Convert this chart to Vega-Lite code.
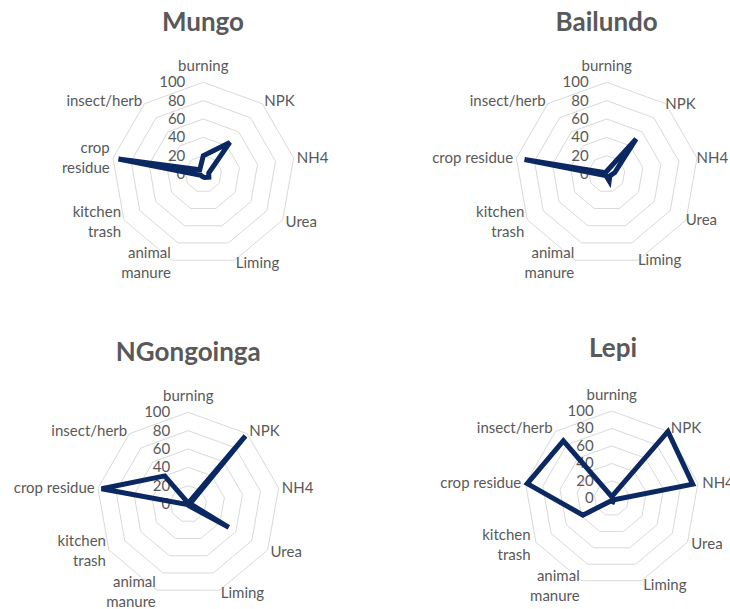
{
  "$schema": "https://vega.github.io/schema/vega-lite/v6.json",
  "padding": 0,
  "background": "white",
  "bounds": "flush",
  "columns": 2,
  "spacing": {"row": 0, "column": 20},
  "config": {
    "view": {"stroke": null},
    "title": {"font": "Lato", "fontSize": 26, "fontWeight": "bold", "color": "#595959", "frame": "group", "anchor": "middle", "baseline": "alphabetic"},
    "text": {"font": "Lato", "fontSize": 15, "color": "#595959"},
    "line": {"strokeJoin": "miter"}
  },
  "datasets": {
    "vals": [
      {"site": "Mungo", "cat": "burning", "k": 0, "value": 20, "label": "burning"},
      {"site": "Mungo", "cat": "NPK", "k": 1, "value": 45, "label": "NPK"},
      {"site": "Mungo", "cat": "NH4", "k": 2, "value": 6, "label": "NH4"},
      {"site": "Mungo", "cat": "Urea", "k": 3, "value": 7, "label": "Urea"},
      {"site": "Mungo", "cat": "Liming", "k": 4, "value": 4, "label": "Liming"},
      {"site": "Mungo", "cat": "animal manure", "k": 5, "value": 3, "label": "animal\nmanure"},
      {"site": "Mungo", "cat": "kitchen trash", "k": 6, "value": 3, "label": "kitchen\ntrash"},
      {"site": "Mungo", "cat": "crop residue", "k": 7, "value": 94, "label": "crop\nresidue"},
      {"site": "Mungo", "cat": "insect/herb", "k": 8, "value": 6, "label": "insect/herb"},
      {"site": "Bailundo", "cat": "burning", "k": 0, "value": 3, "label": "burning"},
      {"site": "Bailundo", "cat": "NPK", "k": 1, "value": 50, "label": "NPK"},
      {"site": "Bailundo", "cat": "NH4", "k": 2, "value": 9, "label": "NH4"},
      {"site": "Bailundo", "cat": "Urea", "k": 3, "value": 4, "label": "Urea"},
      {"site": "Bailundo", "cat": "Liming", "k": 4, "value": 8, "label": "Liming"},
      {"site": "Bailundo", "cat": "animal manure", "k": 5, "value": 2, "label": "animal\nmanure"},
      {"site": "Bailundo", "cat": "kitchen trash", "k": 6, "value": 3, "label": "kitchen\ntrash"},
      {"site": "Bailundo", "cat": "crop residue", "k": 7, "value": 91, "label": "crop residue"},
      {"site": "Bailundo", "cat": "insect/herb", "k": 8, "value": 2, "label": "insect/herb"},
      {"site": "NGongoinga", "cat": "burning", "k": 0, "value": 1, "label": "burning"},
      {"site": "NGongoinga", "cat": "NPK", "k": 1, "value": 97, "label": "NPK"},
      {"site": "NGongoinga", "cat": "NH4", "k": 2, "value": 2, "label": "NH4"},
      {"site": "NGongoinga", "cat": "Urea", "k": 3, "value": 51, "label": "Urea"},
      {"site": "NGongoinga", "cat": "Liming", "k": 4, "value": 2, "label": "Liming"},
      {"site": "NGongoinga", "cat": "animal manure", "k": 5, "value": 1, "label": "animal\nmanure"},
      {"site": "NGongoinga", "cat": "kitchen trash", "k": 6, "value": 1, "label": "kitchen\ntrash"},
      {"site": "NGongoinga", "cat": "crop residue", "k": 7, "value": 96, "label": "crop residue"},
      {"site": "NGongoinga", "cat": "insect/herb", "k": 8, "value": 40, "label": "insect/herb"},
      {"site": "Lepi", "cat": "burning", "k": 0, "value": 2, "label": "burning"},
      {"site": "Lepi", "cat": "NPK", "k": 1, "value": 100, "label": "NPK"},
      {"site": "Lepi", "cat": "NH4", "k": 2, "value": 94, "label": "NH4"},
      {"site": "Lepi", "cat": "Urea", "k": 3, "value": 3, "label": "Urea"},
      {"site": "Lepi", "cat": "Liming", "k": 4, "value": 4, "label": "Liming"},
      {"site": "Lepi", "cat": "animal manure", "k": 5, "value": 3, "label": "animal\nmanure"},
      {"site": "Lepi", "cat": "kitchen trash", "k": 6, "value": 38, "label": "kitchen\ntrash"},
      {"site": "Lepi", "cat": "crop residue", "k": 7, "value": 98, "label": "crop residue"},
      {"site": "Lepi", "cat": "insect/herb", "k": 8, "value": 86, "label": "insect/herb"}
    ],
    "grid": [
      {"level": 20, "k": 0}, {"level": 20, "k": 1}, {"level": 20, "k": 2}, {"level": 20, "k": 3}, {"level": 20, "k": 4}, {"level": 20, "k": 5}, {"level": 20, "k": 6}, {"level": 20, "k": 7}, {"level": 20, "k": 8},
      {"level": 40, "k": 0}, {"level": 40, "k": 1}, {"level": 40, "k": 2}, {"level": 40, "k": 3}, {"level": 40, "k": 4}, {"level": 40, "k": 5}, {"level": 40, "k": 6}, {"level": 40, "k": 7}, {"level": 40, "k": 8},
      {"level": 60, "k": 0}, {"level": 60, "k": 1}, {"level": 60, "k": 2}, {"level": 60, "k": 3}, {"level": 60, "k": 4}, {"level": 60, "k": 5}, {"level": 60, "k": 6}, {"level": 60, "k": 7}, {"level": 60, "k": 8},
      {"level": 80, "k": 0}, {"level": 80, "k": 1}, {"level": 80, "k": 2}, {"level": 80, "k": 3}, {"level": 80, "k": 4}, {"level": 80, "k": 5}, {"level": 80, "k": 6}, {"level": 80, "k": 7}, {"level": 80, "k": 8},
      {"level": 100, "k": 0}, {"level": 100, "k": 1}, {"level": 100, "k": 2}, {"level": 100, "k": 3}, {"level": 100, "k": 4}, {"level": 100, "k": 5}, {"level": 100, "k": 6}, {"level": 100, "k": 7}, {"level": 100, "k": 8}
    ],
    "ticks": [{"level": 0}, {"level": 20}, {"level": 40}, {"level": 60}, {"level": 80}, {"level": 100}]
  },
  "concat": [
    {
      "width": 400, "height": 310,
      "title": {"text": "Mungo", "dx": 3, "offset": -36},
      "encoding": {
        "x": {"field": "x", "type": "quantitative", "axis": null, "scale": {"domain": [-221.7, 214.5], "nice": false, "zero": false}},
        "y": {"field": "y", "type": "quantitative", "axis": null, "scale": {"domain": [-148.3, 189.75], "nice": false, "zero": false}}
      },
      "layer": [
        {"data": {"name": "grid"}, "transform": [{"calculate": "datum.level*sin(datum.k*2*PI/9)", "as": "x"}, {"calculate": "datum.level*cos(datum.k*2*PI/9)", "as": "y"}],
         "mark": {"type": "line", "interpolate": "linear-closed", "stroke": "#d9d9d9", "strokeWidth": 1}, "encoding": {"detail": {"field": "level", "type": "nominal"}, "order": {"field": "k", "type": "quantitative"}}},
        {"data": {"name": "ticks"}, "transform": [{"calculate": "0", "as": "x"}, {"calculate": "datum.level", "as": "y"}],
         "mark": {"type": "text", "align": "right", "baseline": "middle", "dx": -18}, "encoding": {"text": {"field": "level", "type": "quantitative"}}},
        {"data": {"name": "vals"}, "transform": [{"filter": "datum.site == 'Mungo' && datum.k >= 1 && datum.k <= 4"}, {"calculate": "103.6*sin(datum.k*2*PI/9)", "as": "x"}, {"calculate": "103.6*cos(datum.k*2*PI/9)", "as": "y"}],
         "mark": {"type": "text", "align": "left", "baseline": "middle"}, "encoding": {"text": {"field": "label"}}},
        {"data": {"name": "vals"}, "transform": [{"filter": "datum.site == 'Mungo' && datum.k >= 5 && indexof(datum.label, '\\n') < 0"}, {"calculate": "103.6*sin(datum.k*2*PI/9)", "as": "x"}, {"calculate": "103.6*cos(datum.k*2*PI/9)", "as": "y"}],
         "mark": {"type": "text", "align": "right", "baseline": "middle"}, "encoding": {"text": {"field": "label"}}},
        {"data": {"name": "vals"}, "transform": [{"filter": "datum.site == 'Mungo' && datum.k >= 5 && indexof(datum.label, '\\n') >= 0"}, {"calculate": "103.6*sin(datum.k*2*PI/9)", "as": "x"}, {"calculate": "103.6*cos(datum.k*2*PI/9)", "as": "y"}],
         "mark": {"type": "text", "align": "right", "baseline": "middle", "lineBreak": "\n", "lineHeight": 20, "dy": -10}, "encoding": {"text": {"field": "label"}}},
        {"data": {"name": "vals"}, "transform": [{"filter": "datum.site == 'Mungo' && datum.k == 0"}, {"calculate": "0", "as": "x"}, {"calculate": "118", "as": "y"}],
         "mark": {"type": "text", "align": "center", "baseline": "middle"}, "encoding": {"text": {"field": "label"}}},
        {"data": {"name": "vals"}, "transform": [{"filter": "datum.site == 'Mungo'"}, {"calculate": "datum.value*sin(datum.k*2*PI/9)", "as": "x"}, {"calculate": "datum.value*cos(datum.k*2*PI/9)", "as": "y"}],
         "mark": {"type": "line", "interpolate": "linear-closed", "stroke": "#0b2862", "strokeWidth": 5}, "encoding": {"order": {"field": "k", "type": "quantitative"}}}
      ]
    },
    {
      "width": 310, "height": 310,
      "title": {"text": "Bailundo", "dx": 31.7, "offset": -36},
      "encoding": {
        "x": {"field": "x", "type": "quantitative", "axis": null, "scale": {"domain": [-203.6, 134.5], "nice": false, "zero": false}},
        "y": {"field": "y", "type": "quantitative", "axis": null, "scale": {"domain": [-148.3, 189.75], "nice": false, "zero": false}}
      },
      "layer": [
        {"data": {"name": "grid"}, "transform": [{"calculate": "datum.level*sin(datum.k*2*PI/9)", "as": "x"}, {"calculate": "datum.level*cos(datum.k*2*PI/9)", "as": "y"}],
         "mark": {"type": "line", "interpolate": "linear-closed", "stroke": "#d9d9d9", "strokeWidth": 1}, "encoding": {"detail": {"field": "level", "type": "nominal"}, "order": {"field": "k", "type": "quantitative"}}},
        {"data": {"name": "ticks"}, "transform": [{"calculate": "0", "as": "x"}, {"calculate": "datum.level", "as": "y"}],
         "mark": {"type": "text", "align": "right", "baseline": "middle", "dx": -18}, "encoding": {"text": {"field": "level", "type": "quantitative"}}},
        {"data": {"name": "vals"}, "transform": [{"filter": "datum.site == 'Bailundo' && datum.k >= 1 && datum.k <= 4"}, {"calculate": "99.5*sin(datum.k*2*PI/9)", "as": "x"}, {"calculate": "99.5*cos(datum.k*2*PI/9)", "as": "y"}],
         "mark": {"type": "text", "align": "left", "baseline": "middle"}, "encoding": {"text": {"field": "label"}}},
        {"data": {"name": "vals"}, "transform": [{"filter": "datum.site == 'Bailundo' && datum.k >= 5 && indexof(datum.label, '\\n') < 0"}, {"calculate": "103.6*sin(datum.k*2*PI/9)", "as": "x"}, {"calculate": "103.6*cos(datum.k*2*PI/9)", "as": "y"}],
         "mark": {"type": "text", "align": "right", "baseline": "middle"}, "encoding": {"text": {"field": "label"}}},
        {"data": {"name": "vals"}, "transform": [{"filter": "datum.site == 'Bailundo' && datum.k >= 5 && indexof(datum.label, '\\n') >= 0"}, {"calculate": "103.6*sin(datum.k*2*PI/9)", "as": "x"}, {"calculate": "103.6*cos(datum.k*2*PI/9)", "as": "y"}],
         "mark": {"type": "text", "align": "right", "baseline": "middle", "lineBreak": "\n", "lineHeight": 20, "dy": -10}, "encoding": {"text": {"field": "label"}}},
        {"data": {"name": "vals"}, "transform": [{"filter": "datum.site == 'Bailundo' && datum.k == 0"}, {"calculate": "0", "as": "x"}, {"calculate": "118", "as": "y"}],
         "mark": {"type": "text", "align": "center", "baseline": "middle"}, "encoding": {"text": {"field": "label"}}},
        {"data": {"name": "vals"}, "transform": [{"filter": "datum.site == 'Bailundo'"}, {"calculate": "datum.value*sin(datum.k*2*PI/9)", "as": "x"}, {"calculate": "datum.value*cos(datum.k*2*PI/9)", "as": "y"}],
         "mark": {"type": "line", "interpolate": "linear-closed", "stroke": "#0b2862", "strokeWidth": 5}, "encoding": {"order": {"field": "k", "type": "quantitative"}}}
      ]
    },
    {
      "width": 400, "height": 299,
      "title": {"text": "NGongoinga", "dx": -11.7, "offset": -56},
      "encoding": {
        "x": {"field": "x", "type": "quantitative", "axis": null, "scale": {"domain": [-205.3, 230.9], "nice": false, "zero": false}},
        "y": {"field": "y", "type": "quantitative", "axis": null, "scale": {"domain": [-114.5, 211.6], "nice": false, "zero": false}}
      },
      "layer": [
        {"data": {"name": "grid"}, "transform": [{"calculate": "datum.level*sin(datum.k*2*PI/9)", "as": "x"}, {"calculate": "datum.level*cos(datum.k*2*PI/9)", "as": "y"}],
         "mark": {"type": "line", "interpolate": "linear-closed", "stroke": "#d9d9d9", "strokeWidth": 1}, "encoding": {"detail": {"field": "level", "type": "nominal"}, "order": {"field": "k", "type": "quantitative"}}},
        {"data": {"name": "ticks"}, "transform": [{"calculate": "0", "as": "x"}, {"calculate": "datum.level", "as": "y"}],
         "mark": {"type": "text", "align": "right", "baseline": "middle", "dx": -18}, "encoding": {"text": {"field": "level", "type": "quantitative"}}},
        {"data": {"name": "vals"}, "transform": [{"filter": "datum.site == 'NGongoinga' && datum.k >= 1 && datum.k <= 4"}, {"calculate": "103.6*sin(datum.k*2*PI/9)", "as": "x"}, {"calculate": "103.6*cos(datum.k*2*PI/9)", "as": "y"}],
         "mark": {"type": "text", "align": "left", "baseline": "middle"}, "encoding": {"text": {"field": "label"}}},
        {"data": {"name": "vals"}, "transform": [{"filter": "datum.site == 'NGongoinga' && datum.k >= 5 && indexof(datum.label, '\\n') < 0"}, {"calculate": "103.6*sin(datum.k*2*PI/9)", "as": "x"}, {"calculate": "103.6*cos(datum.k*2*PI/9)", "as": "y"}],
         "mark": {"type": "text", "align": "right", "baseline": "middle"}, "encoding": {"text": {"field": "label"}}},
        {"data": {"name": "vals"}, "transform": [{"filter": "datum.site == 'NGongoinga' && datum.k >= 5 && indexof(datum.label, '\\n') >= 0"}, {"calculate": "103.6*sin(datum.k*2*PI/9)", "as": "x"}, {"calculate": "103.6*cos(datum.k*2*PI/9)", "as": "y"}],
         "mark": {"type": "text", "align": "right", "baseline": "middle", "lineBreak": "\n", "lineHeight": 20, "dy": -11}, "encoding": {"text": {"field": "label"}}},
        {"data": {"name": "vals"}, "transform": [{"filter": "datum.site == 'NGongoinga' && datum.k == 0"}, {"calculate": "0", "as": "x"}, {"calculate": "118", "as": "y"}],
         "mark": {"type": "text", "align": "center", "baseline": "middle"}, "encoding": {"text": {"field": "label"}}},
        {"data": {"name": "vals"}, "transform": [{"filter": "datum.site == 'NGongoinga'"}, {"calculate": "datum.value*sin(datum.k*2*PI/9)", "as": "x"}, {"calculate": "datum.value*cos(datum.k*2*PI/9)", "as": "y"}],
         "mark": {"type": "line", "interpolate": "linear-closed", "stroke": "#0b2862", "strokeWidth": 5}, "encoding": {"order": {"field": "k", "type": "quantitative"}}}
      ]
    },
    {
      "width": 310, "height": 299,
      "title": {"text": "Lepi", "dx": 38, "offset": -52},
      "encoding": {
        "x": {"field": "x", "type": "quantitative", "axis": null, "scale": {"domain": [-219.1, 135.2], "nice": false, "zero": false}},
        "y": {"field": "y", "type": "quantitative", "axis": null, "scale": {"domain": [-126.3, 215.4], "nice": false, "zero": false}}
      },
      "layer": [
        {"data": {"name": "grid"}, "transform": [{"calculate": "datum.level*sin(datum.k*2*PI/9)", "as": "x"}, {"calculate": "datum.level*cos(datum.k*2*PI/9)", "as": "y"}],
         "mark": {"type": "line", "interpolate": "linear-closed", "stroke": "#d9d9d9", "strokeWidth": 1}, "encoding": {"detail": {"field": "level", "type": "nominal"}, "order": {"field": "k", "type": "quantitative"}}},
        {"data": {"name": "ticks"}, "transform": [{"calculate": "0", "as": "x"}, {"calculate": "datum.level", "as": "y"}],
         "mark": {"type": "text", "align": "right", "baseline": "middle", "dx": -18}, "encoding": {"text": {"field": "level", "type": "quantitative"}}},
        {"data": {"name": "vals"}, "transform": [{"filter": "datum.site == 'Lepi' && datum.k >= 1 && datum.k <= 4"}, {"calculate": "105*sin(datum.k*2*PI/9)", "as": "x"}, {"calculate": "105*cos(datum.k*2*PI/9)", "as": "y"}],
         "mark": {"type": "text", "align": "left", "baseline": "middle", "clip": true}, "encoding": {"text": {"field": "label"}}},
        {"data": {"name": "vals"}, "transform": [{"filter": "datum.site == 'Lepi' && datum.k >= 5 && indexof(datum.label, '\\n') < 0"}, {"calculate": "105*sin(datum.k*2*PI/9)", "as": "x"}, {"calculate": "105*cos(datum.k*2*PI/9)", "as": "y"}],
         "mark": {"type": "text", "align": "right", "baseline": "middle"}, "encoding": {"text": {"field": "label"}}},
        {"data": {"name": "vals"}, "transform": [{"filter": "datum.site == 'Lepi' && datum.k >= 5 && indexof(datum.label, '\\n') >= 0"}, {"calculate": "107*sin(datum.k*2*PI/9)", "as": "x"}, {"calculate": "107*cos(datum.k*2*PI/9)", "as": "y"}],
         "mark": {"type": "text", "align": "right", "baseline": "middle", "lineBreak": "\n", "lineHeight": 20, "dy": -10}, "encoding": {"text": {"field": "label"}}},
        {"data": {"name": "vals"}, "transform": [{"filter": "datum.site == 'Lepi' && datum.k == 0"}, {"calculate": "0", "as": "x"}, {"calculate": "118", "as": "y"}],
         "mark": {"type": "text", "align": "center", "baseline": "middle"}, "encoding": {"text": {"field": "label"}}},
        {"data": {"name": "vals"}, "transform": [{"filter": "datum.site == 'Lepi'"}, {"calculate": "datum.value*sin(datum.k*2*PI/9)", "as": "x"}, {"calculate": "datum.value*cos(datum.k*2*PI/9)", "as": "y"}],
         "mark": {"type": "line", "interpolate": "linear-closed", "stroke": "#0b2862", "strokeWidth": 5}, "encoding": {"order": {"field": "k", "type": "quantitative"}}}
      ]
    }
  ]
}
